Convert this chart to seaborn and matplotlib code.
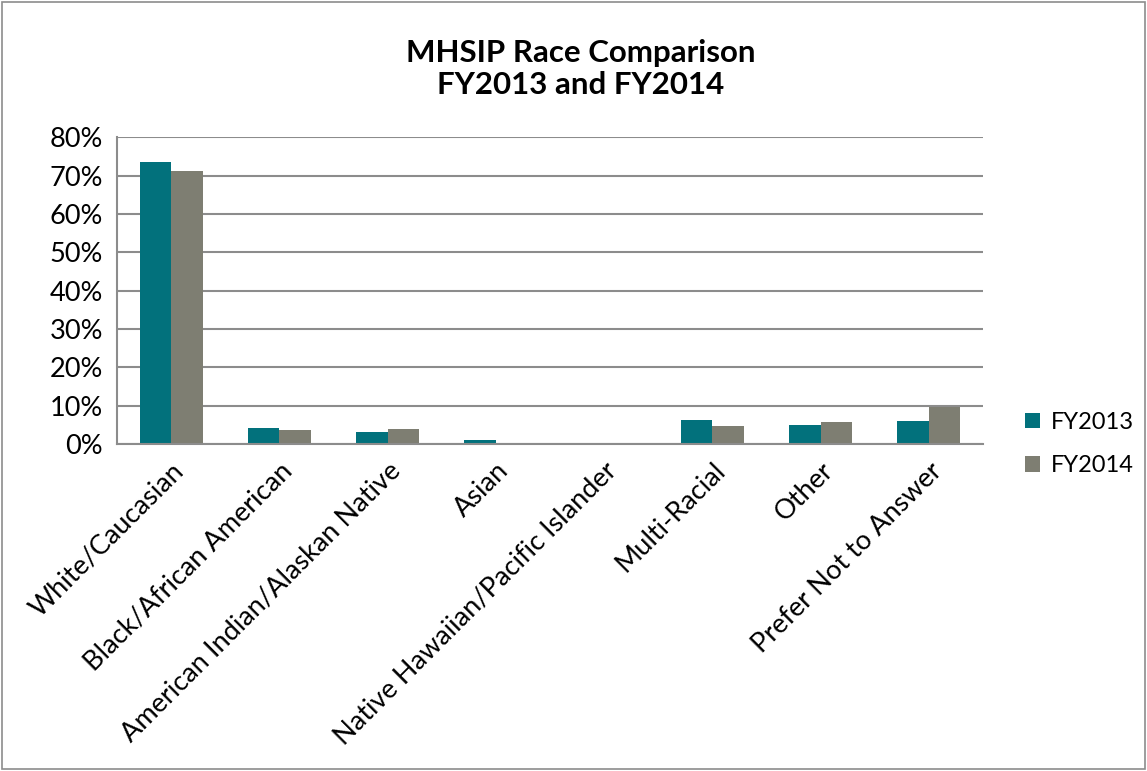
import matplotlib
matplotlib.use("Agg")
import matplotlib.pyplot as plt
import seaborn as sns
import pandas as pd
import numpy as np
from matplotlib.ticker import FixedLocator, PercentFormatter

categories = ["White/Caucasian", "Black/African American", "American Indian/Alaskan Native",
              "Asian", "Native Hawaiian/Pacific Islander", "Multi-Racial", "Other",
              "Prefer Not to Answer"]
fy2013 = [73.6, 4.2, 3.1, 1.0, 0.0, 6.4, 5.0, 6.0]
fy2014 = [71.1, 3.8, 4.0, 0.3, 0.2, 4.6, 5.7, 9.8]
series = ["FY2013", "FY2014"]
yticks = [0, 10, 20, 30, 40, 50, 60, 70, 80]

df = pd.DataFrame({
    "Race": categories * 2,
    "Value": fy2013 + fy2014,
    "Year": [series[0]] * len(categories) + [series[1]] * len(categories),
})

sns.set_style("white")
plt.rcParams["font.family"] = ["Lato", "DejaVu Sans"]
plt.rcParams["text.color"] = "black"
plt.rcParams["xtick.color"] = "black"
plt.rcParams["ytick.color"] = "black"

fig = plt.figure(figsize=(11.47, 7.71), dpi=100)
ax = fig.add_axes([0.102, 0.424, 0.755, 0.398])

sns.barplot(data=df, x="Race", y="Value", hue="Year", order=categories,
            hue_order=series, palette=["#02717C", "#7E7E72"], width=0.58,
            saturation=1, ax=ax, edgecolor="none")

ax.set_ylim(0, 80)
ax.set_xlim(-0.5, len(categories) - 0.5)
ax.set_yticks(yticks)
ax.yaxis.set_major_formatter(PercentFormatter(decimals=0))
ax.yaxis.grid(True, color="#8C8C8C", linewidth=1.5)
ax.set_axisbelow(True)
ax.set_xlabel("")
ax.set_ylabel("")

for s in ["top", "right"]:
    ax.spines[s].set_visible(False)
for s in ["left", "bottom"]:
    ax.spines[s].set_color("#8C8C8C")
    ax.spines[s].set_linewidth(1.5)

ax.tick_params(axis="y", which="major", length=6, width=1.5, color="#8C8C8C",
               labelsize=19.5, labelcolor="black", pad=4)
ax.tick_params(axis="x", which="major", length=0, labelsize=19.5, labelcolor="black", pad=10)
ax.xaxis.set_minor_locator(FixedLocator(np.arange(-0.5, len(categories), 1.0)))
ax.tick_params(axis="x", which="minor", length=8, width=1.5, color="#8C8C8C")
for lbl in ax.get_xticklabels():
    lbl.set_rotation(45)
    lbl.set_ha("right")
    lbl.set_rotation_mode("anchor")

leg = ax.legend(loc="center left", bbox_to_anchor=(1.024, 0.0), frameon=False,
                fontsize=17, handlelength=0.65, handleheight=0.65, labelspacing=0.95,
                handletextpad=0.45)

fig.suptitle("MHSIP Race Comparison\nFY2013 and FY2014", x=0.506, y=0.95,
             fontsize=22.5, fontweight="bold", linespacing=1.2)

border = plt.Rectangle((0.002, 0.002), 0.996, 0.996, transform=fig.transFigure,
                       fill=False, edgecolor="#8C8C8C", linewidth=1.2)
fig.patches.append(border)

fig.savefig("out.png", dpi=100)
